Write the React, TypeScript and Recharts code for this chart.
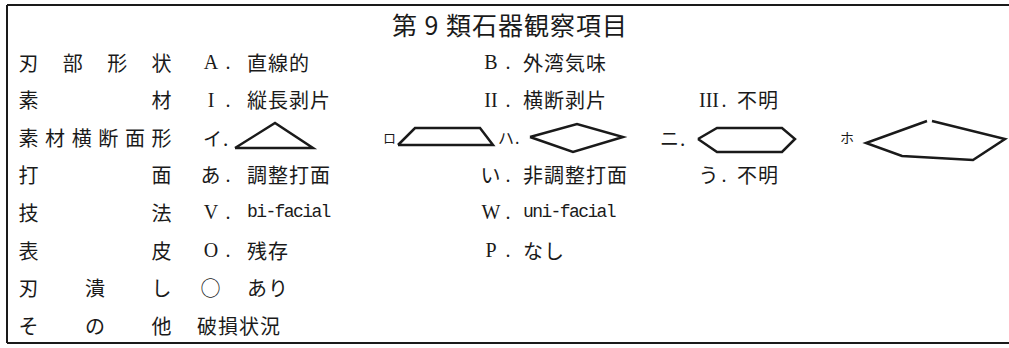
import React from "react";
import { ComposedChart, XAxis, YAxis, Scatter, Line, ReferenceLine } from "recharts";

// table content
const title = "第 9 類石器観察項目";
const rowLabels = ["刃部形状", "素材", "素材横断面形", "打面", "技法", "表皮", "刃潰し", "その他"];
const codes1 = ["A", "I", "", "あ", "V", "O", "○", ""];
const texts1 = ["直線的", "縦長剥片", "", "調整打面", "bi-facial", "残存", "あり", ""];
const codes2 = ["B", "II", "", "い", "W", "P", "", ""];
const texts2 = ["外湾気味", "横断剥片", "", "非調整打面", "uni-facial", "なし", "", ""];
const codes3 = ["", "III", "", "う", "", "", "", ""];
const texts3 = ["", "不明", "", "不明", "", "", "", ""];
const notes = ["", "", "", "", "", "", "", "破損状況"];

// cross-section shapes (row 3), outlines
const shapeMarks = ["イ.", "ロ", "ハ.", "ニ.", "ホ"];
const triangle = [[235, 148], [275, 123], [313, 148], [235, 148]];
const trapezoid = [[398, 145], [415, 128], [480, 128], [493, 145], [398, 145]];
const diamond = [[530, 137], [577, 124], [623, 137], [573, 152], [530, 137]];
const hexagon = [[698, 139], [717, 128], [782, 128], [795, 139], [782, 152], [717, 152], [698, 139]];
const pentagon = [[932, 121], [1005, 139], [973, 160], [902, 156], [866, 143], [927, 121]];

const W = 1009;
const H = 348;
const rowY = (i: number) => 62 + i * 37.6;
const LABEL_L = 29;
const LABEL_R = 162;
const COLS = [
  { code: 211, dot: 228, text: 247 },
  { code: 491, dot: 508, text: 523 },
  { code: 709, dot: 724, text: 737 },
];
const NOTE_X = 197;
const markX = [203, 383, 498, 660, 840];
const markSize = [19, 13, 16, 19, 14];

const SERIF = "'Liberation Serif', 'Noto Sans CJK JP', serif";
const CJK = "'Noto Sans CJK JP', 'Liberation Serif', sans-serif";
const MONO = "'Liberation Mono', 'DejaVu Sans Mono', monospace";
const INK = "#1a1a1a";

const toPts = (arr: number[][]) => arr.map(([x, y]) => ({ x, y }));

const cellPoints = (values: string[], x: number) =>
  values
    .map((text, i) => ({ x, y: rowY(i), text }))
    .filter((d) => d.text !== "");

const dotPoints = (codes: string[], x: number) =>
  codes
    .map((c, i) => ({ x, y: rowY(i), text: c && c !== "○" ? "." : "" }))
    .filter((d) => d.text !== "");

// left column: characters spread across the cell
const labelPoints = rowLabels.flatMap((label, i) => {
  const chars = label.split("");
  const step = (LABEL_R - LABEL_L) / (chars.length - 1);
  return chars.map((c, j) => ({ x: LABEL_L + j * step, y: rowY(i), text: c }));
});

const markPoints = shapeMarks.map((text, i) => ({ x: markX[i], y: rowY(2), text, size: markSize[i] }));

const TextShape = (anchor: "start" | "middle") => (props: any) => {
  const { cx, cy, payload } = props;
  const t: string = payload.text;
  const mono = /^[a-z-]+$/.test(t);
  const latin = /^[A-Z.]+$/.test(t);
  return (
    <text
      x={cx}
      y={cy}
      textAnchor={anchor}
      dominantBaseline="central"
      fill={INK}
      fontFamily={mono ? MONO : latin ? SERIF : CJK}
      fontSize={payload.size || (mono ? 18 : 20)}
      letterSpacing={mono ? -1.6 : latin ? 0 : 1}
    >
      {t}
    </text>
  );
};

const outlines = [triangle, trapezoid, diamond, hexagon, pentagon];
const codeCols = [codes1, codes2, codes3];
const textCols = [texts1, texts2, texts3];

const App = () => {
  return (
    <div style={{ position: "absolute", left: 0, top: 0, width: W, height: H, background: "#fff" }}>
      <ComposedChart width={W} height={H} margin={{ top: 0, right: 0, bottom: 0, left: 0 }}>
        <XAxis type="number" dataKey="x" domain={[0, W]} hide allowDataOverflow />
        <YAxis type="number" dataKey="y" domain={[0, H]} reversed hide allowDataOverflow />

        <ReferenceLine segment={[{ x: 7, y: 5 }, { x: W, y: 5 }]} stroke={INK} strokeWidth={2} />
        <ReferenceLine segment={[{ x: 7, y: 343 }, { x: W, y: 343 }]} stroke={INK} strokeWidth={2} />
        <ReferenceLine segment={[{ x: 7, y: 5 }, { x: 7, y: 343 }]} stroke={INK} strokeWidth={2} />

        <Scatter
          data={[{ x: 510, y: 24, text: title, size: 25 }]}
          shape={TextShape("middle")}
          isAnimationActive={false}
        />
        <Scatter data={labelPoints} shape={TextShape("middle")} isAnimationActive={false} />
        {COLS.map((c, k) => (
          <Scatter key={"c" + k} data={cellPoints(codeCols[k], c.code)} shape={TextShape("middle")} isAnimationActive={false} />
        ))}
        {COLS.map((c, k) => (
          <Scatter key={"d" + k} data={dotPoints(codeCols[k], c.dot)} shape={TextShape("middle")} isAnimationActive={false} />
        ))}
        {COLS.map((c, k) => (
          <Scatter key={"t" + k} data={cellPoints(textCols[k], c.text)} shape={TextShape("start")} isAnimationActive={false} />
        ))}
        <Scatter data={cellPoints(notes, NOTE_X)} shape={TextShape("start")} isAnimationActive={false} />
        <Scatter data={markPoints} shape={TextShape("start")} isAnimationActive={false} />

        {outlines.map((o, i) => (
          <Line
            key={i}
            data={toPts(o)}
            dataKey="y"
            type="linear"
            stroke={INK}
            strokeWidth={2.5}
            strokeLinejoin="miter"
            dot={false}
            activeDot={false}
            isAnimationActive={false}
          />
        ))}
      </ComposedChart>
    </div>
  );
};

export default App;
